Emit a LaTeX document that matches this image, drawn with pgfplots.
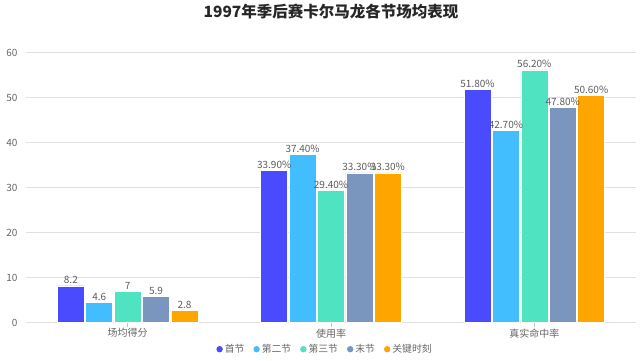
\documentclass[border=0pt]{standalone}
\usepackage{fontspec}
\setmainfont{Noto Sans CJK SC}
\usepackage{pgfplots}
\pgfplotsset{compat=1.18}
\definecolor{cA}{RGB}{74,74,255}
\definecolor{cB}{RGB}{66,190,255}
\definecolor{cC}{RGB}{80,227,194}
\definecolor{cD}{RGB}{123,150,190}
\definecolor{cE}{RGB}{255,165,0}
\definecolor{gridc}{RGB}{224,224,224}
\definecolor{txt}{RGB}{102,102,102}
\begin{document}
\begin{tikzpicture}
\begin{axis}[
  scale only axis, width=610pt, height=270pt,
  ybar=1.4pt, bar width=27pt,
  xmin=-0.5, xmax=2.5, ymin=0, ymax=60,
  xtick={0,1,2}, xticklabels={场均得分,使用率,真实命中率},
  ytick={0,10,...,60},
  xtick pos=bottom,
  ymajorgrids, grid style={gridc, line width=0.8pt},
  axis line style={draw=none},
  tick align=outside,
  xtick style={draw=gridc!70!gray, line width=0.6pt},
  major tick length=4pt,
  ytick style={draw=none},
  /pgf/number format/assume math mode=true,
  tick label style={font=\fontsize{10}{12}\selectfont, text=txt},
  xticklabel style={anchor=center, yshift=-6.5pt},
  yticklabel style={xshift=-1pt},
  point meta=explicit symbolic,
  nodes near coords={\pgfplotspointmeta},
  nodes near coords style={font=\fontsize{10}{12}\selectfont, text=txt!90!black, anchor=south, inner sep=1.5pt},
  every axis plot/.append style={draw=white, line width=0.6pt},
  legend image code/.code={\fill[#1,draw=none] (0pt,0pt) circle (3.2pt);},
  legend style={at={(axis description cs:0.5,0)}, anchor=center, yshift=-26.5pt, xshift=-6pt, draw=none, fill=none,
    font=\fontsize{9.8}{11}\selectfont, text=txt, legend columns=5,
    /tikz/every even column/.append style={column sep=7pt},
    inner sep=0pt},
  title={\bfseries 1997年季后赛卡尔马龙各节场均表现},
  title style={at={(axis description cs:0.5,1)}, anchor=center, yshift=35.5pt, font=\fontsize{15.5}{18}\selectfont, text=black!85},
]
\addplot[fill=cA] coordinates {(0,8.2) [8.2] (1,33.9) [33.90\%] (2,51.8) [51.80\%]};
\addplot[fill=cB] coordinates {(0,4.6) [4.6] (1,37.4) [37.40\%] (2,42.7) [42.70\%]};
\addplot[fill=cC] coordinates {(0,7.0) [7] (1,29.4) [29.40\%] (2,56.2) [56.20\%]};
\addplot[fill=cD] coordinates {(0,5.9) [5.9] (1,33.3) [33.30\%] (2,47.8) [47.80\%]};
\addplot[fill=cE] coordinates {(0,2.8) [2.8] (1,33.3) [33.30\%] (2,50.6) [50.60\%]};
\legend{首节,第二节,第三节,末节,关键时刻}
\end{axis}
\pgfresetboundingbox
\path (current axis.south west) ++(-26pt,-37.3pt) rectangle ++(640pt,360pt);
\end{tikzpicture}
\end{document}
